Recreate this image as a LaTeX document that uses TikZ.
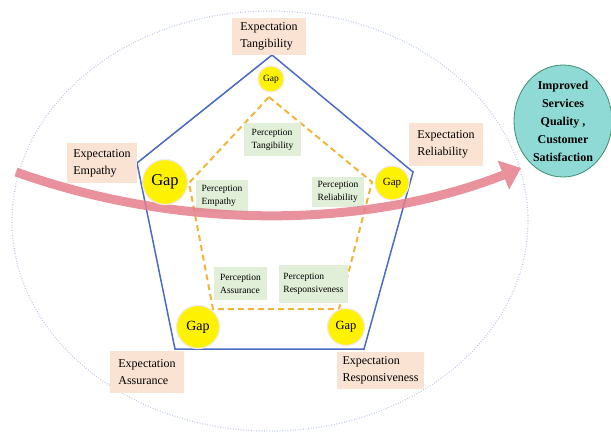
\documentclass[tikz,border=0pt]{standalone}
\usepackage{fontspec}
\setmainfont{Liberation Serif}
\usepackage{xcolor}
\usetikzlibrary{arrows.meta,positioning,calc,shapes.geometric}
\definecolor{expfill}{HTML}{FBE3D4}
\definecolor{percfill}{HTML}{E1EFD9}
\definecolor{penblue}{HTML}{4A6CC4}
\definecolor{dashgold}{HTML}{F2B53A}
\definecolor{arrowpink}{HTML}{E57E8C}
\definecolor{goalfill}{HTML}{8FDAD5}
\definecolor{goalline}{HTML}{3E8C72}
\definecolor{ringdot}{HTML}{BAC6E6}

\begin{document}
\begin{tikzpicture}[x=1pt,y=-1pt,
  expbox/.style={fill=expfill,align=left,inner sep=0pt,font=\fontsize{12}{17}\selectfont},
  percbox/.style={fill=percfill,align=left,inner sep=0pt,font=\fontsize{9.5}{13}\selectfont},
  gapc/.style={circle,fill=yellow,inner sep=0pt,draw=yellow!60!blue!15,line width=1.2pt}]
  \useasboundingbox (0,0) rectangle (611,433);
  % outer dotted ring
  \node[ellipse,draw=ringdot,line width=1.2pt,dash pattern=on 0.8pt off 1.8pt,minimum width=516pt,minimum height=420pt] (ring) at (270,221) {};
  % pentagons
  \coordinate (vT) at (272,55);
  \coordinate (vR) at (413,172);
  \coordinate (vS) at (364,349);
  \coordinate (vA) at (175,349);
  \coordinate (vE) at (137,163);
  \draw[penblue,line width=1.5pt,line join=miter] (vT) -- (vR) -- (vS) -- (vA) -- (vE) -- cycle;
  \coordinate (dT) at (269,97);
  \coordinate (dR) at (372,182);
  \coordinate (dS) at (339,309);
  \coordinate (dA) at (213,309);
  \coordinate (dE) at (189,183);
  \draw[dashgold,line width=2pt,dash pattern=on 6pt off 4pt] (dT) -- (dR) -- (dS) -- (dA) -- (dE) -- cycle;
  % expectation labels
  \node[expbox,minimum width=74pt,minimum height=37pt] (expT) at (269,36.5) {Expectation\\Tangibility};
  \node[expbox,minimum width=70pt,minimum height=40pt] (expE) at (102,163) {Expectation\\Empathy};
  \node[expbox,minimum width=74pt,minimum height=43pt] (expR) at (446,144.5) {Expectation\\Reliability};
  \node[expbox,minimum width=74pt,minimum height=42pt] (expA) at (147,372) {Expectation\\Assurance};
  \node[expbox,minimum width=87pt,minimum height=37pt] (expS) at (380.5,370.5) {Expectation\\Responsiveness};
  % perception labels
  \node[percbox,minimum width=57pt,minimum height=33pt] (percT) at (272.5,139.5) {Perception\\Tangibility};
  \node[percbox,minimum width=52pt,minimum height=32pt] (percE) at (222,196) {Perception\\Empathy};
  \node[percbox,minimum width=52pt,minimum height=30pt] (percR) at (338,192) {Perception\\Reliability};
  \node[percbox,minimum width=53pt,minimum height=33pt] (percA) at (240.5,283.5) {Perception\\Assurance};
  \node[percbox,minimum width=69pt,minimum height=38pt] (percS) at (313.5,284) {Perception\\Responsiveness};
  % goal
  \node[ellipse,draw=goalline,fill=goalfill,line width=0.8pt,minimum width=98pt,minimum height=112pt] (goalshape) at (563,121) {};
  \node[align=center,inner sep=0pt,font=\bfseries\fontsize{12}{18}\selectfont] (goal) at (goalshape) {Improved\\Services\\Quality ,\\Customer\\Satisfaction};
  % pink arrow
  \coordinate (arrowstart) at (16,172);
  \coordinate (arrowtip) at (521,168);
  \begin{scope}[transparency group,opacity=0.85]
    \draw[arrowpink,line width=9pt,-{Triangle[length=19pt,width=30pt]}] (arrowstart) .. controls (184,232) and (370,228) .. (arrowtip);
  \end{scope}
  % gaps
  \node[gapc,minimum size=26pt,font=\fontsize{9.5}{11}\selectfont] (gapT) at (271,79) {Gap};
  \node[gapc,minimum size=45pt,font=\fontsize{16.5}{18}\selectfont] (gapE) at (165,182) {Gap};
  \node[gapc,minimum size=34pt,font=\fontsize{11}{13}\selectfont] (gapR) at (392,183) {Gap};
  \node[gapc,minimum size=43pt,font=\fontsize{14}{16}\selectfont] (gapA) at (198,327) {Gap};
  \node[gapc,minimum size=37pt,font=\fontsize{12.5}{14}\selectfont] (gapS) at (346,327) {Gap};
\end{tikzpicture}
\end{document}
